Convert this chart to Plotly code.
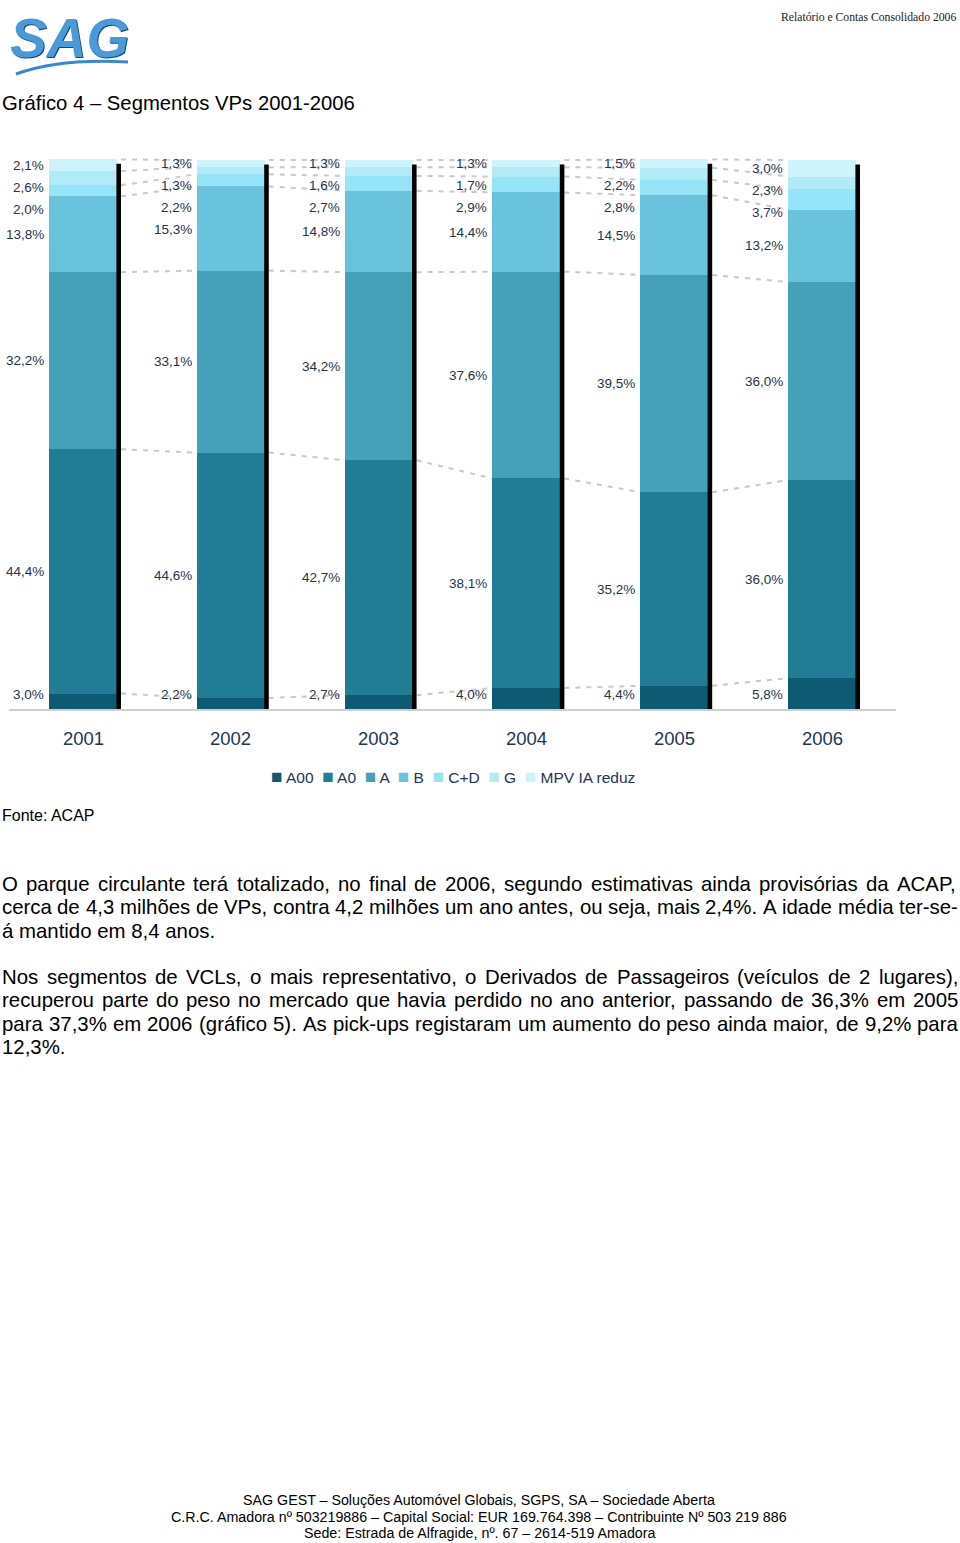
import plotly.graph_objects as go

# ---------------- data ----------------
years = ["2001", "2002", "2003", "2004", "2005", "2006"]
segments = ["A00", "A0", "A", "B", "C+D", "G", "MPV IA reduz"]
a00 = [3.0, 2.2, 2.7, 4.0, 4.4, 5.8]
a0 = [44.4, 44.6, 42.7, 38.1, 35.2, 36.0]
seg_a = [32.2, 33.1, 34.2, 37.6, 39.5, 36.0]
seg_b = [13.8, 15.3, 14.8, 14.4, 14.5, 13.2]
seg_cd = [2.0, 2.2, 2.7, 2.9, 2.8, 3.7]
seg_g = [2.6, 1.3, 1.6, 1.7, 2.2, 2.3]
mpv = [2.1, 1.3, 1.3, 1.3, 1.5, 3.0]
series = [a00, a0, seg_a, seg_b, seg_cd, seg_g, mpv]
colors = ["#0e5a72", "#217c95", "#44a1b9", "#6ac3dc", "#96e4f8", "#b2ebf8", "#cdf3fb"]

title_text = "Gráfico 4 – Segmentos VPs 2001-2006"
header_text = "Relatório e Contas Consolidado 2006"
source_text = "Fonte: ACAP"
para1 = [
    "O parque circulante terá totalizado, no final de 2006, segundo estimativas ainda provisórias da ACAP,",
    "cerca de 4,3 milhões de VPs, contra 4,2 milhões um ano antes, ou seja, mais 2,4%. A idade média ter-se-",
    "á mantido em 8,4 anos.",
]
para2 = [
    "Nos segmentos de VCLs, o mais representativo, o Derivados de Passageiros (veículos de 2 lugares),",
    "recuperou parte do peso no mercado que havia perdido no ano anterior, passando de 36,3% em 2005",
    "para 37,3% em 2006 (gráfico 5). As pick-ups registaram um aumento do peso ainda maior, de 9,2% para",
    "12,3%.",
]
footer = [
    "SAG GEST – Soluções Automóvel Globais, SGPS, SA – Sociedade Aberta",
    "C.R.C. Amadora nº 503219886 – Capital Social: EUR 169.764.398 – Contribuinte Nº 503 219 886",
    "Sede: Estrada de Alfragide, nº. 67 – 2614-519 Amadora",
]

# ---------------- geometry ----------------
W, H = 960, 1543
BASE_PX = 710.0          # pixel row of 0 %
PX_PER_PCT = 5.5         # pixels per percent
X0_PX = 83.0             # pixel column of first bar centre
STEP_PX = 147.8          # pixels between bar centres
BW = 0.46                # bar width (category units)
SH = 0.027               # shadow width (category units)

FONT = "Liberation Sans, Arial, Helvetica, sans-serif"
LABEL_COLOR = "#25344c"
NAVY = "#1c3657"
PARA_SIZE = 20.4
TEXT_RIGHT = 956.0


def py(px):
    return 1 - px / H


def pxx(px):
    return px / W


def fmt(v):
    return f"{v:.1f}".replace(".", ",") + "%"


# Arial / Liberation Sans advance widths (per 1000 em)
_AW = {" ": 278, "%": 889, ",": 278, "-": 333, ".": 278, ":": 278, "(": 333, ")": 333,
       "A": 667, "C": 722, "D": 722, "L": 556, "N": 722, "O": 778, "P": 667, "S": 667, "V": 667,
       "a": 556, "b": 556, "c": 500, "d": 556, "e": 556, "f": 278, "g": 556, "h": 556, "i": 222,
       "j": 222, "k": 500, "l": 222, "m": 833, "n": 556, "o": 556, "p": 556, "q": 556, "r": 333,
       "s": 500, "t": 278, "u": 556, "v": 500, "w": 722, "x": 500, "y": 500, "z": 500,
       "á": 556, "é": 556, "í": 278, "ó": 556, "õ": 556, "ç": 500, "ã": 556}


def text_width(s, size):
    return sum(_AW.get(ch, 556) for ch in s) * size / 1000.0


def add_paragraph(lines, top_px, anns):
    for j, line in enumerate(lines):
        ypx = top_px + j * 23.3
        words = line.split(" ")
        last = j == len(lines) - 1
        if last or len(words) < 2:
            anns.append(dict(
                x=pxx(0), y=py(ypx), xref="paper", yref="paper", xanchor="left", yanchor="middle",
                text=line, showarrow=False, font=dict(family=FONT, size=PARA_SIZE, color="black"),
            ))
            continue
        widths = [text_width(w, PARA_SIZE) for w in words]
        gap = (TEXT_RIGHT - sum(widths)) / (len(words) - 1)
        xpos = 0.0
        for w, wd in zip(words, widths):
            anns.append(dict(
                x=pxx(xpos), y=py(ypx), xref="paper", yref="paper", xanchor="left", yanchor="middle",
                text=w, showarrow=False, font=dict(family=FONT, size=PARA_SIZE, color="black"),
            ))
            xpos += wd + gap


xs = list(range(len(years)))
fig = go.Figure()
for name, vals, col in zip(segments, series, colors):
    fig.add_trace(go.Bar(
        x=xs, y=vals, name=name, width=BW,
        marker=dict(color=col, line=dict(width=0)),
        hovertemplate=name + ": %{y:.1f}%<extra></extra>",
    ))

# cumulative boundaries
n = len(years)
cums = []
for i in range(n):
    c = [0.0]
    for s in series:
        c.append(c[-1] + s[i])
    cums.append(c)

shapes = []
annotations = []

# dashed connectors between bars
for i in range(n - 1):
    for k in range(1, len(series) + 1):
        shapes.append(dict(
            type="line", xref="x", yref="y", layer="below",
            x0=i + BW / 2 + SH, y0=cums[i][k],
            x1=i + 1 - BW / 2, y1=cums[i + 1][k],
            line=dict(color="#c9c9c9", width=2, dash="5px,6px"),
        ))

# black shadow on right of each bar
for i in range(n):
    shapes.append(dict(
        type="rect", xref="x", yref="y", layer="above",
        x0=i + BW / 2 - 0.004, x1=i + BW / 2 + SH,
        y0=0, y1=cums[i][-1] - 0.8,
        fillcolor="black", line=dict(width=0),
    ))

# baseline
shapes.append(dict(
    type="line", xref="x", yref="y", layer="above",
    x0=-0.5, x1=n - 0.5, y0=0, y1=0,
    line=dict(color="#cfcfcf", width=2),
))

# value labels (to the left of each bar, spread apart near the top)
for i in range(n):
    mids = [(cums[i][k] + cums[i][k + 1]) / 2 for k in range(len(series))]
    pos = [0.0] * len(series)
    limit = 100.3
    for k in range(len(series) - 1, -1, -1):
        p = min(mids[k], limit)
        pos[k] = p
        limit = p - 4.0
    pos[0] = max(pos[0], 2.9)
    for k, s in enumerate(series):
        annotations.append(dict(
            x=i - BW / 2, y=pos[k], xref="x", yref="y",
            xanchor="right", yanchor="middle", xshift=-3,
            text=fmt(s[i]), showarrow=False,
            font=dict(family=FONT, size=13.5, color=LABEL_COLOR),
        ))

# year labels
for i, yr in enumerate(years):
    annotations.append(dict(
        x=i, y=py(738), xref="x", yref="paper", xanchor="center", yanchor="middle",
        text=yr, showarrow=False, font=dict(family=FONT, size=18.5, color=NAVY),
    ))

# legend (custom, compact)
leg = "  ".join(
    f'<span style="color:{c};font-size:19px">■</span> {nm}' for nm, c in zip(segments, colors)
)
annotations.append(dict(
    x=pxx(453), y=py(776), xref="paper", yref="paper", xanchor="center", yanchor="middle",
    text=leg, showarrow=False, font=dict(family=FONT, size=15.5, color=NAVY),
))

# page texts
annotations.append(dict(
    x=pxx(0), y=py(103), xref="paper", yref="paper", xanchor="left", yanchor="middle",
    text=title_text, showarrow=False, font=dict(family=FONT, size=20.3, color="black"),
))
annotations.append(dict(
    x=pxx(958), y=py(18), xref="paper", yref="paper", xanchor="right", yanchor="middle",
    text=header_text, showarrow=False,
    font=dict(family="Liberation Serif, Times New Roman, serif", size=11.7, color="#222222"),
))
annotations.append(dict(
    x=pxx(0), y=py(815), xref="paper", yref="paper", xanchor="left", yanchor="middle",
    text=source_text, showarrow=False, font=dict(family=FONT, size=16, color="black"),
))
add_paragraph(para1, 884, annotations)
add_paragraph(para2, 977, annotations)
for j, line in enumerate(footer):
    annotations.append(dict(
        x=pxx(479), y=py(1500 + j * 16.5), xref="paper", yref="paper", xanchor="center", yanchor="middle",
        text=line, showarrow=False, font=dict(family=FONT, size=14.25, color="black"),
    ))

# logo
annotations.append(dict(
    x=pxx(8), y=py(38), xref="paper", yref="paper", xanchor="left", yanchor="middle",
    text="<b><i>SAG</i></b>", showarrow=False,
    font=dict(family=FONT, size=55, color="#4a9ad8", shadow="1px 1px 0px #0c4a86"),
))
shapes.append(dict(
    type="path", xref="paper", yref="paper", layer="above",
    path=f"M {pxx(16)},{py(74)} Q {pxx(60)},{py(58)} {pxx(128)},{py(62)}",
    line=dict(color="#3a88cc", width=3),
))

fig.update_layout(
    width=W, height=H,
    margin=dict(l=0, r=0, t=0, b=0),
    paper_bgcolor="white", plot_bgcolor="white",
    barmode="stack", showlegend=False,
    xaxis=dict(visible=False, range=[-X0_PX / STEP_PX, (W - X0_PX) / STEP_PX], domain=[0, 1]),
    yaxis=dict(visible=False, range=[-(H - BASE_PX) / PX_PER_PCT, BASE_PX / PX_PER_PCT], domain=[0, 1]),
    shapes=shapes, annotations=annotations,
)

fig.write_html(
    "out.html",
    config={"displayModeBar": False},
    post_script="document.body.style.margin='0';document.body.style.overflow='hidden';",
)
